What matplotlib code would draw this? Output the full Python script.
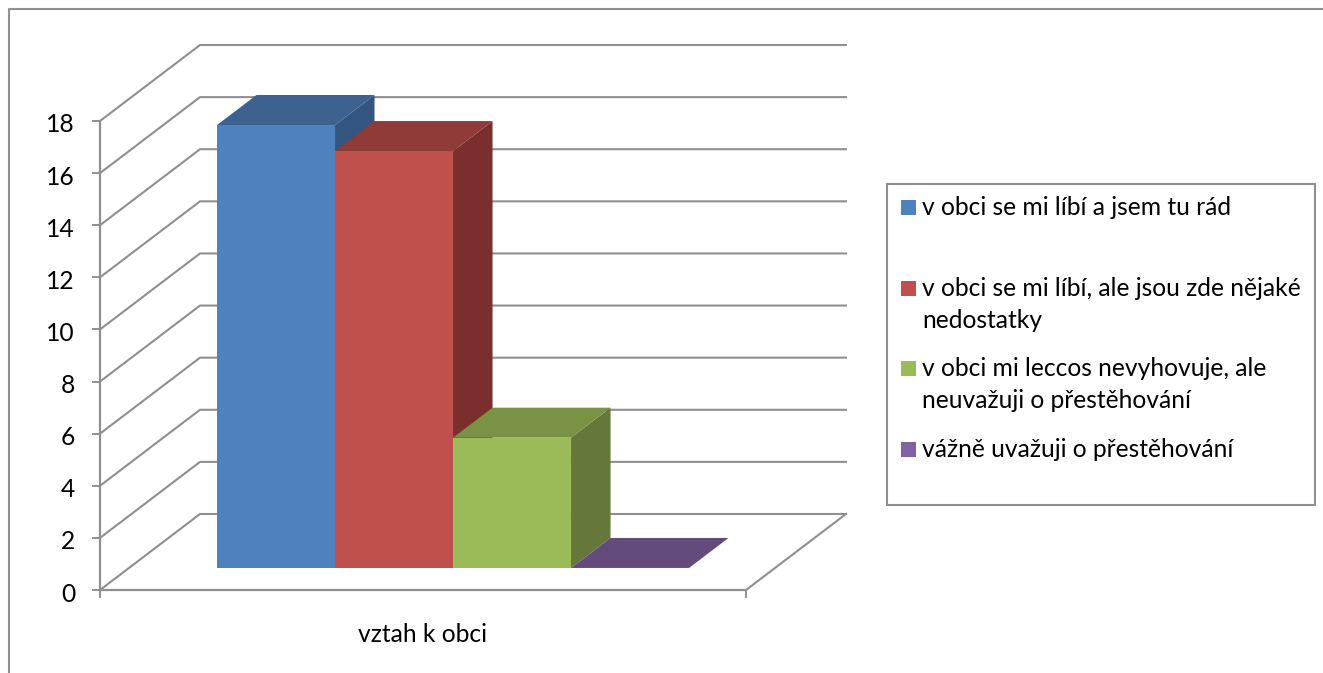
import matplotlib
matplotlib.use('Agg')
import matplotlib.pyplot as plt
from matplotlib.patches import Polygon, Rectangle
from matplotlib.transforms import ScaledTranslation

plt.rcParams['font.family'] = ['Lato', 'DejaVu Sans']

W, H = 1323, 673

category = 'vztah k obci'
series = [
    'v obci se mi líbí a jsem tu rád',
    'v obci se mi líbí, ale jsou zde nějaké\nnedostatky',
    'v obci mi leccos nevyhovuje, ale\nneuvažuji o přestěhování',
    'vážně uvažuji o přestěhování',
]
values = [17, 16, 5, 0]
y_ticks = [0, 2, 4, 6, 8, 10, 12, 14, 16, 18]

front_colors = ['#4F81BD', '#C0504D', '#9BBB59', '#8064A2']
top_colors = ['#3E6290', '#8F3B38', '#7A9244', '#634C7C']
side_colors = ['#345580', '#7A2F2D', '#65783A', '#53406A']
line_color = '#8F8F8F'
font_size = 17.7

# front plane of the box in pixels
left, right, y0, y18 = 100, 746, 590, 121
bar_px = 118
px_per_unit = (y0 - y18) / 18
x_max = (right - left) / bar_px

# how far the back wall is shifted, in data units
DX = 100 / bar_px
DY = 76 / px_per_unit
gap = 0.746
depth_front, depth_back = 0.29, 0.685


def skew(x, y, d):
    return x + d * DX, y + d * DY


fig = plt.figure(figsize=(W / 100, H / 100), dpi=100)
fig.patch.set_facecolor('white')

# overlay in pixels for the outer frame and the legend box
bg = fig.add_axes([0, 0, 1, 1])
bg.set_xlim(0, W)
bg.set_ylim(H, 0)
bg.axis('off')
bg.plot([9, 9, W + 5], [H + 5, 9, 9], color=line_color, lw=1.5)

ax = fig.add_axes([left / W, (H - y0) / H, (right - left) / W, (y0 - y18) / H])
ax.set_xlim(0, x_max)
ax.set_ylim(0, 18)
ax.patch.set_alpha(0)

for s in ['top', 'right']:
    ax.spines[s].set_visible(False)
for s in ['left', 'bottom']:
    ax.spines[s].set_color(line_color)
    ax.spines[s].set_linewidth(1.6)

ax.set_yticks(y_ticks)
ax.tick_params(axis='y', length=6, width=1.4, color=line_color, labelsize=font_size, pad=12)
# nudge the numbers down a little
for lab in ax.get_yticklabels():
    lab.set_transform(lab.get_transform() + ScaledTranslation(0, -2 / 100, fig.dpi_scale_trans))
ax.set_xticks([0, x_max])
ax.set_xticklabels(['', ''])
ax.tick_params(axis='x', which='major', length=6, width=1.4, color=line_color)
ax.set_xticks([x_max / 2], [category], minor=True)
ax.tick_params(axis='x', which='minor', length=0, labelsize=font_size, pad=24)

# back wall gridlines with the diagonal part on the side wall
for v in y_ticks:
    bx, by = skew(0, v, 1)
    ex, ey = skew(x_max, v, 1)
    ax.plot([0, bx, ex], [v, by, ey], color=line_color, lw=1.5, clip_on=False, zorder=1)

# right edge of the floor
bx, by = skew(x_max, 0, 1)
ax.plot([x_max, bx], [0, by], color=line_color, lw=1.5, clip_on=False, zorder=1)

for i, v in enumerate(values):
    x1 = gap + i
    x2 = x1 + 1
    fl, fb = skew(x1, 0, depth_front)
    fr, _ = skew(x2, 0, depth_front)
    ft = fb + v
    dx = (depth_back - depth_front) * DX
    dy = (depth_back - depth_front) * DY
    ax.add_patch(Polygon([(fr, fb), (fr + dx, fb + dy), (fr + dx, ft + dy), (fr, ft)],
                         fc=side_colors[i], ec='none', clip_on=False, zorder=3))
    ax.add_patch(Polygon([(fl, ft), (fl + dx, ft + dy), (fr + dx, ft + dy), (fr, ft)],
                         fc=top_colors[i], ec='none', clip_on=False, zorder=3))
    ax.add_patch(Rectangle((fl, fb), fr - fl, v, fc=front_colors[i], ec='none',
                           clip_on=False, zorder=3))

# legend
bg.add_patch(Rectangle((887, 183.5), 428, 321.5, fc='white', ec=line_color, lw=1.5))
legend_y = [207.5, 288.5, 368.5, 449.5]
for name, color, ly in zip(series, front_colors, legend_y):
    bg.add_patch(Rectangle((901, ly - 7.5), 15, 15, fc=color, ec='none'))
    for k, part in enumerate(name.split('\n')):
        bg.text(922, ly + 7.5 + k * 32.5, part, fontsize=font_size, color='black',
                va='baseline', ha='left')

fig.savefig('out.png', dpi=100)
